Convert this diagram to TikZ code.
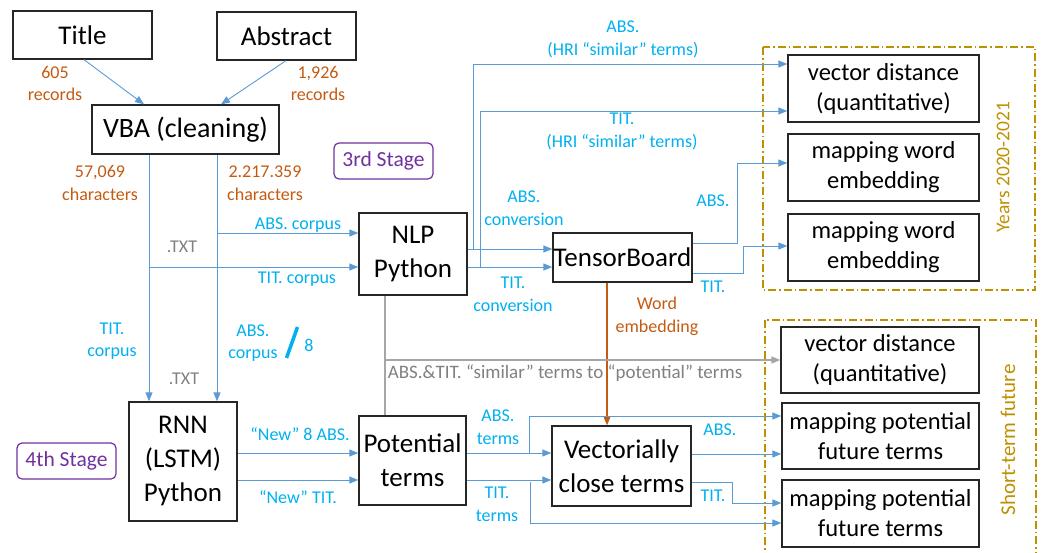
\documentclass[tikz,border=0pt]{standalone}
\usepackage{fontspec}
\setmainfont{Carlito}
\usetikzlibrary{arrows.meta,calc}
\definecolor{bline}{HTML}{5B9BD5}
\definecolor{skyt}{HTML}{00B0F0}
\definecolor{orng}{HTML}{C55A11}
\definecolor{gline}{HTML}{A6A6A6}
\definecolor{gtxt}{HTML}{808080}
\definecolor{purp}{HTML}{7030A0}
\definecolor{gold}{HTML}{BF9000}
\begin{document}
\begin{tikzpicture}[x=1pt,y=-1pt,
  box/.style={draw=black!85, line width=1.3pt, fill=white, inner sep=0pt, align=center,
              font=\fontsize{27}{34}\selectfont},
  rbox/.style={box, font=\fontsize{24.5}{30}\selectfont, minimum width=191pt, minimum height=67pt},
  stagebox/.style={draw=purp, rounded corners=5pt, line width=1.2pt, text=purp, inner sep=0pt,
              font=\fontsize{21.5}{26}\selectfont, minimum width=99pt, minimum height=36pt},
  lbl/.style={text=skyt, font=\fontsize{18}{22.5}\selectfont, align=center, inner sep=0pt},
  olbl/.style={lbl, text=orng},
  glbl/.style={lbl, text=gtxt},
  link/.style={draw=bline, line width=0.9pt},
  flow/.style={link, -{Triangle[length=9pt,width=7pt]}},
  gflow/.style={draw=gline, line width=1.4pt, -{Triangle[length=9pt,width=7pt]}},
  glink/.style={draw=gline, line width=1.4pt},
  oflow/.style={draw=orng, line width=1.4pt, -{Triangle[length=9pt,width=7pt]}},
  frame/.style={draw=gold, line width=1.3pt, dash pattern=on 8pt off 3pt on 1.5pt off 3pt}]
\useasboundingbox (0,0) rectangle (1042,552);

% dash-dot frames of the two result groups
\draw[frame] (763,47) rectangle (1035,290);
\draw[frame] (765,320) rectangle (1036,560);
\node[text=gold, rotate=90, font=\fontsize{19.5}{24}\selectfont, inner sep=0pt] (yrs) at (1003,167) {Years 2020-2021};
\node[text=gold, rotate=90, font=\fontsize{21}{24}\selectfont, inner sep=0pt] (stf) at (1008,440) {Short-term future};

% boxes
\node[box, minimum width=139pt, minimum height=48pt] (title) at (82.5,35) {Title};
\node[box, minimum width=139pt, minimum height=48pt] (abstract) at (286.5,36) {Abstract};
\node[box, minimum width=187pt, minimum height=49pt, font=\fontsize{28}{34}\selectfont] (vba) at (185.5,129.5) {VBA (cleaning)};
\node[stagebox] (st3) at (383.5,161) {3rd Stage};
\node[stagebox] (st4) at (66.5,461) {4th Stage};
\node[box, minimum width=108pt, minimum height=82pt] (nlp) at (413,254) {NLP\\Python};
\node[box, minimum width=139pt, minimum height=49pt] (tb) at (622.5,257.5) {TensorBoard};
\node[box, minimum width=108pt, minimum height=119pt] (rnn) at (183,461.5) {RNN\\(LSTM)\\Python};
\node[box, minimum width=107pt, minimum height=89pt] (pot) at (412.5,460.5) {Potential\\terms};
\node[box, minimum width=139pt, minimum height=80pt] (vct) at (621.5,466) {Vectorially\\close terms};
\node[rbox] (vd1) at (883.5,88.5) {vector distance\\(quantitative)};
\node[rbox] (mwe1) at (883.5,167.5) {mapping word\\embedding};
\node[rbox] (mwe2) at (883.5,247.5) {mapping word\\embedding};
\node[rbox, minimum width=198pt, minimum height=66pt] (vd2) at (880,360) {vector distance\\(quantitative)};
\node[rbox, minimum width=197pt, minimum height=66pt] (mpf1) at (880.5,436) {mapping potential\\future terms};
\node[rbox, minimum width=197pt, minimum height=67pt] (mpf2) at (880.5,513.5) {mapping potential\\future terms};

% sources into cleaning
\draw[flow] ([xshift=1.5pt]title.south) -- ([xshift=-41.5pt]vba.north);
\draw[flow] ([xshift=-0.5pt]abstract.south) -- ([xshift=35.5pt]vba.north);
\node[olbl] (l605) at (55,83.5) {605\\records};
\node[olbl] (l1926) at (318,83.5) {1,926\\records};

% corpora out of cleaning
\coordinate (vL) at ([xshift=-36.5pt]vba.south);
\coordinate (vR) at ([xshift=31.5pt]vba.south);
\coordinate (aIn) at ([yshift=21pt]nlp.west);
\coordinate (tIn) at ([yshift=-13pt]nlp.west);
\draw[flow] (vL) -- (vL |- rnn.north);
\draw[flow] (vR) -- (vR |- rnn.north);
\draw[flow] (vR |- aIn) -- (aIn);
\draw[flow] (vL |- tIn) -- (tIn);
\node[olbl] (l57) at (100,183) {57,069\\characters};
\node[olbl] (l22) at (265,183) {2.217.359\\characters};
\node[lbl] (lac) at (298,225) {ABS. corpus};
\node[glbl] (ltx1) at (182,247) {.TXT};
\node[lbl] (ltc) at (297,279) {TIT. corpus};
\node[lbl] (ltc2) at (112,341) {TIT.\\corpus};
\node[glbl] (ltx2) at (184,379) {.TXT};
\node[lbl] (lac2) at (253,343) {ABS.\\corpus};
\draw[draw=skyt, line width=3.5pt] (286.5,358) -- (297.5,327);
\node[lbl] (l8) at (309,345) {8};

% NLP to TensorBoard and to the distance box
\coordinate (tbA) at ([yshift=8.5pt]tb.west);
\coordinate (tbT) at ([yshift=-9.5pt]tb.west);
\coordinate (v1a) at ([yshift=24.5pt]vd1.west);
\coordinate (v1t) at ([yshift=-22.5pt]vd1.west);
\draw[flow] (nlp.east |- tbA) -- (tbA);
\draw[flow] (nlp.east |- tbT) -- (tbT);
\draw[flow] ($(nlp.east |- tbA)+(6,0)$) |- (v1a);
\draw[flow] ($(nlp.east |- tbT)+(13,0)$) |- (v1t);
\node[lbl] (lhra) at (623,39.5) {ABS.\\(HRI “similar” terms)};
\node[lbl] (lhrt) at (622,131.5) {TIT.\\(HRI “similar” terms)};
\node[lbl] (lcva) at (524,208) {ABS.\\conversion};
\node[lbl] (lcvt) at (513,294.5) {TIT.\\conversion};

% TensorBoard to the word-embedding maps
\coordinate (m1in) at ([yshift=4.5pt]mwe1.west);
\coordinate (m2in) at ([yshift=1.5pt]mwe2.west);
\draw[flow] ([yshift=14.5pt]tb.east) -| ($(m1in)+(-50,0)$) -- (m1in);
\draw[flow] ([yshift=-15.5pt]tb.east) -| ($(m2in)+(-44,0)$) -- (m2in);
\node[lbl] (ltba) at (713,201) {ABS.};
\node[lbl] (ltbt) at (713,287) {TIT.};

% word embedding
\coordinate (tbS) at ([xshift=-15.5pt]tb.south);
\draw[oflow] (tbS) -- (tbS |- vct.north);
\node[olbl] (lwe) at (657,316.5) {Word\\embedding};

% similar terms to potential terms
\coordinate (gS) at ([xshift=-28pt]nlp.south);
\draw[glink] (gS) -- (gS |- pot.north);
\draw[gflow] (gS |- vd2.west) -- (vd2.west);
\node[glbl, font=\fontsize{19}{23}\selectfont] (lsim) at (565,373) {ABS.\&TIT. “similar” terms to “potential” terms};

% RNN to potential terms
\coordinate (pA) at ([yshift=7.5pt]pot.west);
\coordinate (pT) at ([yshift=-19.5pt]pot.west);
\draw[flow] (rnn.east |- pA) -- (pA);
\draw[flow] (rnn.east |- pT) -- (pT);
\node[lbl] (lna) at (300,434) {“New” 8 ABS.};
\node[lbl] (lnt) at (298,497) {“New” TIT.};

% potential terms to vectorially close terms and to the future maps
\coordinate (cA) at ([yshift=13pt]vct.west);
\coordinate (cT) at ([yshift=-14pt]vct.west);
\coordinate (f1a) at ([yshift=20pt]mpf1.west);
\coordinate (f2t) at ([yshift=-9.5pt]mpf2.west);
\draw[flow] (pot.east |- cA) -- (cA);
\draw[flow] (pot.east |- cT) -- (cT);
\draw[flow] ($(pot.east |- cA)+(63,0)$) |- (f1a);
\draw[flow] ($(pot.east |- cT)+(64,2)$) |- (f2t);
\node[lbl] (lpta) at (498,427) {ABS.\\terms};
\node[lbl] (lptt) at (497,504.5) {TIT.\\terms};

% vectorially close terms to the future maps
\coordinate (f1b) at ([yshift=-18pt]mpf1.west);
\coordinate (f2b) at ([yshift=10.5pt]mpf2.west);
\draw[flow] (vct.east |- f1b) -- (f1b);
\draw[flow] ([yshift=-16pt]vct.east) -| ($(f2b)+(-49,0)$) -- (f2b);
\node[lbl] (lvca) at (720,430) {ABS.};
\node[lbl] (lvct) at (713,496) {TIT.};
\end{tikzpicture}
\end{document}
